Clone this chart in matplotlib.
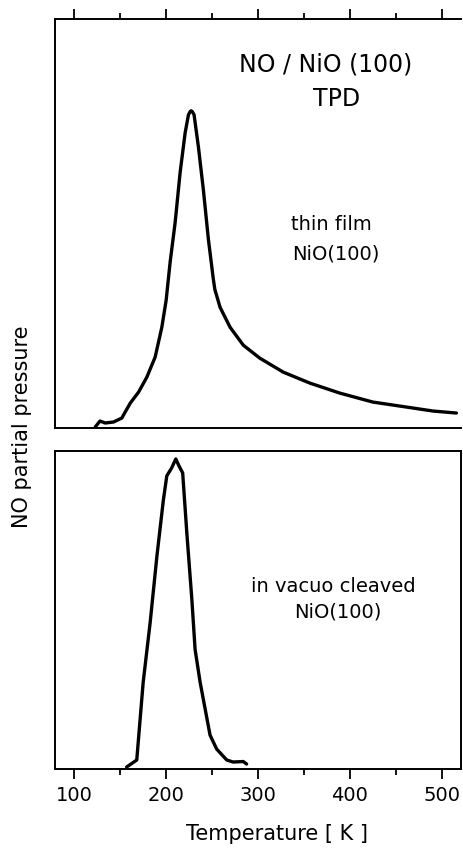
import matplotlib
matplotlib.use("Agg")
import matplotlib.pyplot as plt
from matplotlib.ticker import MultipleLocator

# ---- data (arbitrary units) ----
film_T = [122.8, 128, 133.7, 142.7, 151.8, 155.4, 161, 170, 179, 188, 195.3, 200,
          204.3, 209.8, 215.2, 220.7, 224.3, 226, 227.2, 228.6, 230.4, 235.1, 240.5,
          246, 251.4, 253, 258.7, 269.6, 284, 302, 327.5, 356.5, 389, 425, 461.6,
          490.6, 516]
film_P = [0, 6, 4, 5, 9, 15, 24, 35, 50, 70, 100, 127,
          165, 205, 255, 295, 313, 316, 317, 316, 313, 281, 238,
          188, 148, 138, 120, 100, 82, 69, 55, 44, 34, 25, 20,
          16, 14]

cleaved_T = [157, 168, 175, 182.6, 190, 197, 200.7, 206, 210.5, 214, 218, 222.5,
             228, 231.5, 237, 247.8, 255, 266, 273, 284, 287.6]
cleaved_P = [1, 8, 86, 146, 213, 269, 293, 301, 310, 303, 296, 236,
             169, 119, 86, 33, 19, 8, 6, 6.5, 4]

xticks = [100, 200, 300, 400, 500]

plt.rcParams['font.family'] = ['DejaVu Sans']

fig = plt.figure(figsize=(4.63, 8.48), dpi=100)
W, H = 463, 848
ax1 = fig.add_axes([55 / W, 1 - 428 / H, 406 / W, 409 / H])
ax2 = fig.add_axes([55 / W, 1 - 769 / H, 406 / W, 318 / H])

for ax in (ax1, ax2):
    ax.set_xlim(79, 521)
    ax.set_yticks([])
    for s in ax.spines.values():
        s.set_linewidth(1.4)
        s.set_color('black')
    ax.xaxis.set_major_locator(MultipleLocator(100))
    ax.xaxis.set_minor_locator(MultipleLocator(50))

ax1.set_ylim(-1, 409)
ax2.set_ylim(-1, 318)

ax1.plot(film_T, film_P, color='black', lw=2.4, solid_capstyle='round',
         solid_joinstyle='round')
ax2.plot(cleaved_T, cleaved_P, color='black', lw=2.4, solid_capstyle='round',
         solid_joinstyle='round')

# top panel: ticks on top, no right spine
ax1.spines['right'].set_visible(False)
ax1.tick_params(axis='x', which='both', top=True, bottom=False, labeltop=False,
                labelbottom=False, direction='out', width=1.3)
ax1.tick_params(axis='x', which='major', length=7)
ax1.tick_params(axis='x', which='minor', length=4)

ax2.set_xticks(xticks)
ax2.tick_params(axis='x', which='both', top=False, bottom=True, direction='out', width=1.3)
ax2.tick_params(axis='x', which='major', length=7, labelsize=14, pad=5)
ax2.tick_params(axis='x', which='minor', length=4)

ax2.set_xlabel('Temperature [ K ]', fontsize=15)
ax2.xaxis.label.set_va('center')
ax2.xaxis.set_label_coords((277 - 55) / 406, -(834 - 769) / 318)

fig.text(22 / W, 1 - 427 / H, 'NO partial pressure', rotation=90,
         ha='center', va='center', fontsize=15)

ax1.text(374, 363, 'NO / NiO (100)', ha='center', va='center', fontsize=17)
ax1.text(386, 329, 'TPD', ha='center', va='center', fontsize=17)
ax1.text(380, 203, 'thin film', ha='center', va='center', fontsize=14)
ax1.text(385, 173, 'NiO(100)', ha='center', va='center', fontsize=14)

ax2.text(381.5, 182, 'in vacuo cleaved', ha='center', va='center', fontsize=14)
ax2.text(387, 156, 'NiO(100)', ha='center', va='center', fontsize=14)

fig.savefig('out.png', dpi=100)
